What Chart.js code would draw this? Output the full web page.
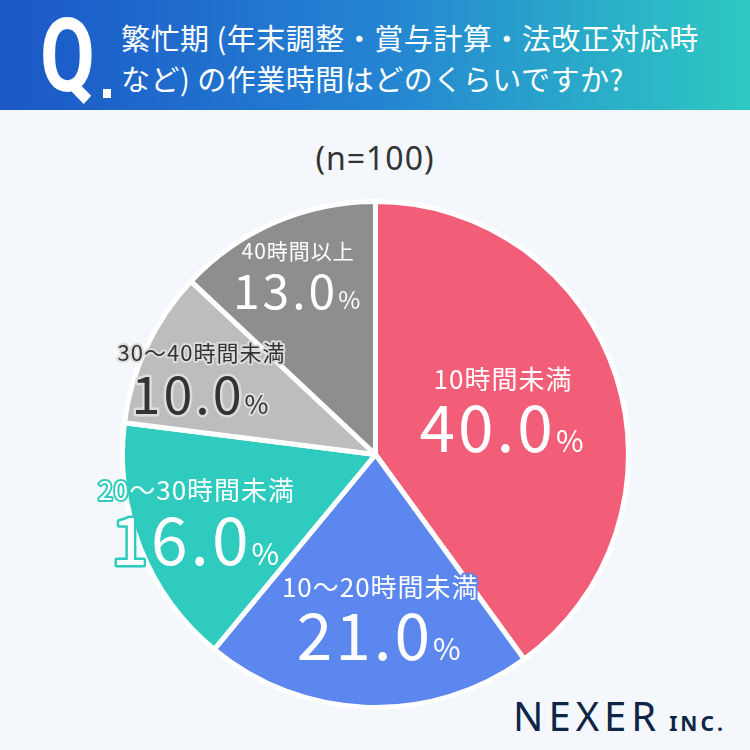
<!DOCTYPE html>
<html>
<head>
<meta charset="utf-8">
<script src="https://cdn.jsdelivr.net/npm/chart.js@4.4.0/dist/chart.umd.min.js"></script>
<style>
    body { margin: 0; width: 750px; height: 750px; background: #f4f7fc; position: relative; overflow: hidden; font-family: "Noto Sans CJK JP", sans-serif; }
    #header { position: absolute; left: 0; top: 0; width: 750px; height: 110px; background: linear-gradient(90deg, #1b57c7 0%, #2483d2 50%, #2ec9c2 100%); }
    #q { position: absolute; left: 40px; top: 6px; color: #fff; font-family: Roboto, sans-serif; font-weight: 700; font-size: 102px; line-height: 100px; transform: scaleX(0.78); transform-origin: left; }
    #dot { position: absolute; left: 103px; top: 89px; width: 8px; height: 9px; background: #fff; }
    #qtext { position: absolute; left: 121px; top: 17px; color: #fff; font-size: 29px; line-height: 41px; letter-spacing: 0.5px; }
    #n { position: absolute; left: 0; width: 750px; top: 136px; text-align: center; font-size: 32px; color: #333; font-family: "Noto Sans", sans-serif; letter-spacing: 1px; }
    #logo { position: absolute; left: 513px; top: 688px; color: #0e2646; font-family: "Noto Sans", sans-serif; }
    #logo .big { font-size: 40px; letter-spacing: 5px; }
    #logo .small { font-size: 21px; font-weight: 700; letter-spacing: 3px; margin-left: 8px; }
    #wrap { position: absolute; left: 0; top: 0; width: 750px; height: 750px; }
</style>
</head>
<body>
<div id="header">
    <div id="q">Q</div>
    <div id="dot"></div>
    <div id="qtext">繁忙期 (年末調整・賞与計算・法改正対応時<br>など) の作業時間はどのくらいですか?</div>
</div>
<div id="n">(n=100)</div>
<div id="logo"><span class="big">NEXER</span><span class="small">INC.</span></div>
<div id="wrap"><canvas id="myChart" width="750" height="750"></canvas></div>
<script>
const categories = ['10時間未満', '10〜20時間未満', '20〜30時間未満', '30〜40時間未満', '40時間以上'];
const percents = [40.0, 21.0, 16.0, 10.0, 13.0];
const sliceColors = ['#f25d78', '#5b87ee', '#2ecbbe', '#bdbdbd', '#8f8e8e'];

// label placement / style per slice
const labelStyle = [
    { f: 0.53, dx: 0, dy: 0, fill: '#fff', stroke: null, cat: 26, num: 64, pct: 30 },
    { f: 0.66, dx: 10, dy: 0, fill: '#fff', stroke: '#5b87ee', cat: 26, num: 64, pct: 30 },
    { f: 0.76, dx: 0, dy: 0, fill: '#fff', stroke: '#2ecbbe', cat: 26, num: 66, pct: 30 },
    { f: 0.76, dx: 0, dy: 8, fill: '#333', stroke: '#dcdcdc', cat: 22, num: 52, pct: 26 },
    { f: 0.77, dx: 0, dy: 2, fill: '#fff', stroke: null, cat: 21, num: 48, pct: 24 }
];

const sliceLabels = {
    id: 'sliceLabels',
    afterDatasetsDraw(chart) {
        const ctx = chart.ctx;
        const meta = chart.getDatasetMeta(0);
        meta.data.forEach((arc, i) => {
            const s = labelStyle[i];
            const mid = (arc.startAngle + arc.endAngle) / 2;
            const cx = arc.x + Math.cos(mid) * arc.outerRadius * s.f + s.dx;
            const cy = arc.y + Math.sin(mid) * arc.outerRadius * s.f + s.dy;
            ctx.save();
            ctx.lineJoin = 'round';
            ctx.textBaseline = 'alphabetic';
            // category
            ctx.font = '400 ' + s.cat + 'px "Noto Sans CJK JP"';
            ctx.letterSpacing = '1px';
            ctx.textAlign = 'center';
            const catY = cy - s.num * 0.38;
            if (s.stroke) {
                ctx.lineWidth = 4;
                ctx.strokeStyle = s.stroke;
                ctx.strokeText(categories[i], cx, catY);
            }
            ctx.fillStyle = s.fill;
            ctx.fillText(categories[i], cx, catY);
            // value
            const numTxt = percents[i].toFixed(1);
            ctx.letterSpacing = '3px';
            ctx.font = '400 ' + s.num + 'px "Noto Sans CJK JP"';
            const w1 = ctx.measureText(numTxt).width;
            ctx.font = '400 ' + s.pct + 'px "Noto Sans CJK JP"';
            const w2 = ctx.measureText('%').width;
            const x0 = cx - (w1 + w2) / 2;
            const numY = cy + s.num * 0.45 + 10;
            ctx.textAlign = 'left';
            ctx.font = '400 ' + s.num + 'px "Noto Sans CJK JP"';
            if (s.stroke) {
                ctx.lineWidth = 5;
                ctx.strokeStyle = s.stroke;
                ctx.strokeText(numTxt, x0, numY);
            }
            ctx.fillStyle = s.fill;
            ctx.fillText(numTxt, x0, numY);
            ctx.font = '400 ' + s.pct + 'px "Noto Sans CJK JP"';
            if (s.stroke) {
                ctx.lineWidth = 4;
                ctx.strokeStyle = s.stroke;
                ctx.strokeText('%', x0 + w1, numY);
            }
            ctx.fillText('%', x0 + w1, numY);
            ctx.restore();
        });
    }
};

window.addEventListener('load', setup);
function setup() {
    const ctx = document.getElementById('myChart').getContext('2d');
    new Chart(ctx, {
        type: 'pie',
        data: {
            labels: categories,
            datasets: [{
                data: percents,
                backgroundColor: sliceColors,
                borderColor: '#ffffff',
                borderWidth: 5
            }]
        },
        options: {
            responsive: false,
            animation: false,
            layout: { padding: { left: 120, right: 119, top: 199, bottom: 40 } },
            plugins: { legend: { display: false }, tooltip: { enabled: false } }
        },
        plugins: [sliceLabels]
    });
}
</script>
</body>
</html>
